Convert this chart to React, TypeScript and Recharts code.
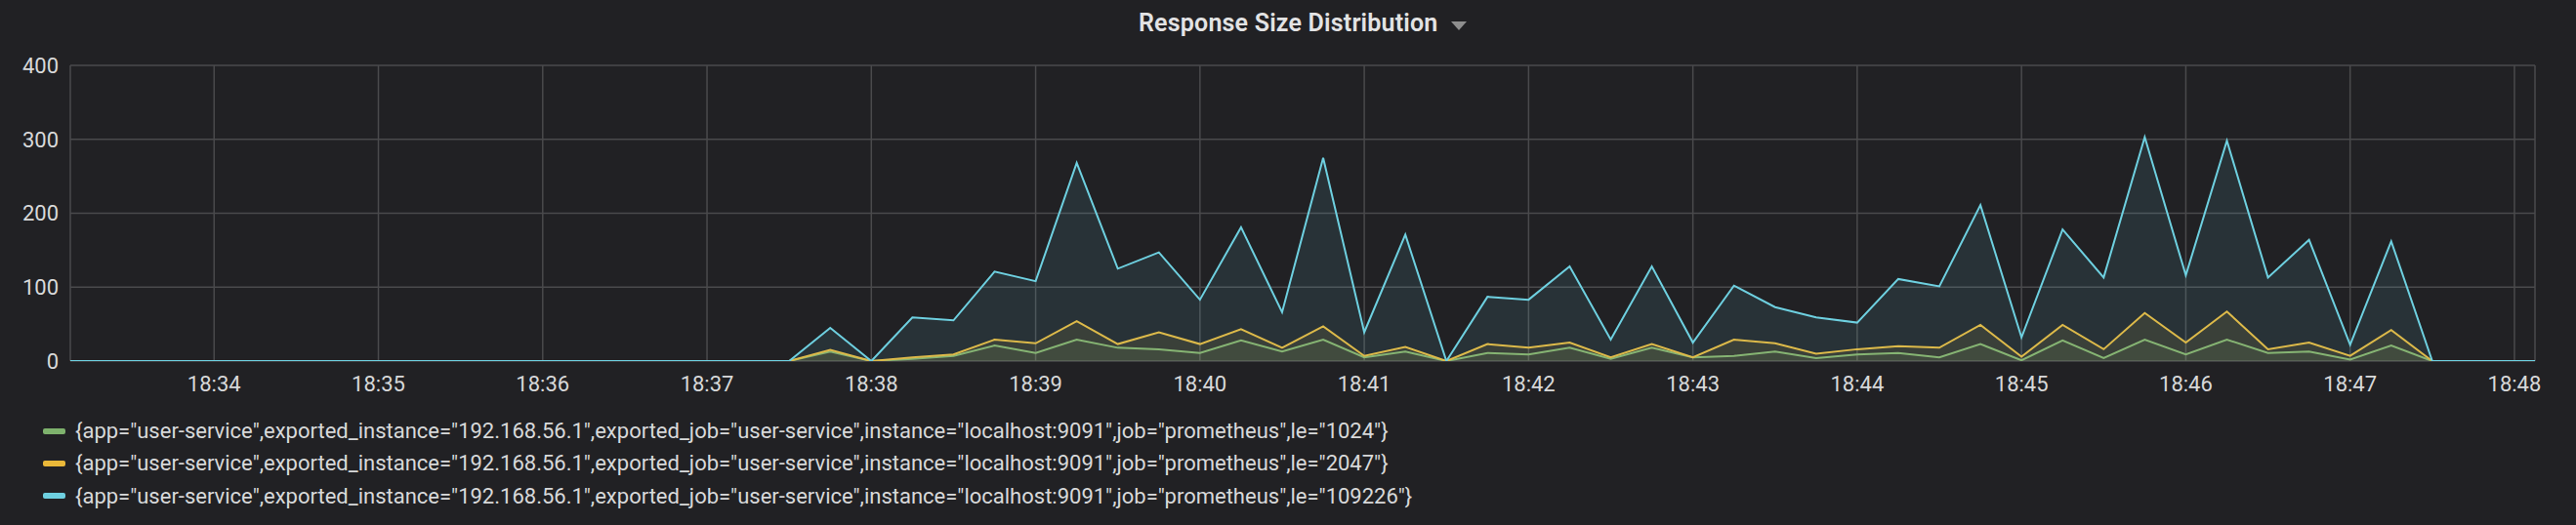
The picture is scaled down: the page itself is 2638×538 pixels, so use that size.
import { ComposedChart, Area, XAxis, YAxis, CartesianGrid } from 'recharts';

// #region Data
// sample times start 18:33:00, one point every 15 s, last one 18:48:15
const startSec = 33 * 60;
const stepSec = 15;

const lead = [0, 0, 0, 0, 0, 0, 0, 0, 0, 0, 0, 0, 0, 0, 0, 0, 0, 0];
const tail = [0, 0, 0];

// 18:37:30 -> 18:47:30
const le1024 = [
    0, 13, 0, 3, 7, 21, 11, 29, 18, 16,
    11, 28, 13, 29, 5, 13, 0, 11, 9, 18,
    3, 18, 5, 7, 13, 4, 9, 11, 5, 23,
    1, 28, 4, 29, 9, 29, 11, 13, 2, 21,
    0,
];
const le2047 = [
    0, 15, 0, 5, 9, 29, 24, 54, 23, 39,
    23, 43, 18, 47, 7, 19, 0, 23, 18, 25,
    5, 23, 5, 29, 24, 10, 16, 20, 18, 49,
    6, 49, 16, 65, 25, 67, 16, 25, 7, 42,
    0,
];
const le109226 = [
    0, 45, 0, 59, 55, 121, 108, 268, 125, 147,
    83, 181, 66, 275, 39, 171, 0, 87, 83, 128,
    29, 128, 25, 102, 73, 59, 52, 111, 101, 211,
    32, 178, 113, 303, 116, 298, 113, 164, 22, 162,
    0,
];

const xTicks = [34, 35, 36, 37, 38, 39, 40, 41, 42, 43, 44, 45, 46, 47, 48].map((m) => m * 60);
const yTicks = [0, 100, 200, 300, 400];

const legendLabels = [
    '{app="user-service",exported_instance="192.168.56.1",exported_job="user-service",instance="localhost:9091",job="prometheus",le="1024"}',
    '{app="user-service",exported_instance="192.168.56.1",exported_job="user-service",instance="localhost:9091",job="prometheus",le="2047"}',
    '{app="user-service",exported_instance="192.168.56.1",exported_job="user-service",instance="localhost:9091",job="prometheus",le="109226"}',
];
const colors = ['#7EB26D', '#EAB839', '#6ED0E0'];
// #endregion

const s1 = [...lead, ...le1024, ...tail];
const s2 = [...lead, ...le2047, ...tail];
const s3 = [...lead, ...le109226, ...tail];

const data = s1.map((v, i) => ({
    t: startSec + i * stepSec,
    a: v,
    b: s2[i],
    c: s3[i],
}));

const fmtTime = (sec: number) => `18:${String(Math.floor(sec / 60)).padStart(2, '0')}`;

const textColor = '#d8d9da';
const font = 'Roboto, "Noto Sans", sans-serif';

export default function App() {
    return (
        <div
            style={{
                position: 'absolute',
                left: 0,
                top: 0,
                width: 2638,
                height: 538,
                background: '#212124',
                fontFamily: font,
                overflow: 'hidden',
            }}
        >
            <div
                style={{
                    position: 'absolute',
                    top: 11,
                    left: 1166,
                    display: 'flex',
                    alignItems: 'center',
                    lineHeight: 1,
                }}
            >
                <span style={{ fontSize: 25, fontWeight: 600, color: '#e3e3e4', letterSpacing: 0.2 }}>
                    Response Size Distribution
                </span>
                <svg width={16} height={9} style={{ marginLeft: 13, marginTop: 6 }}>
                    <polygon points="0,0 16,0 8,9" fill="#8e8e8e" />
                </svg>
            </div>

            <ComposedChart
                width={2638}
                height={420}
                data={data}
                margin={{ top: 67, right: 42, left: 12, bottom: 0 }}
                style={{ position: 'absolute', left: 0, top: 0 }}
            >
                <CartesianGrid stroke="#4a4a4c" strokeWidth={1.5} />
                <XAxis
                    dataKey="t"
                    type="number"
                    domain={[startSec + 7.5, 48 * 60 + 7.5]}
                    allowDataOverflow
                    ticks={xTicks}
                    tickFormatter={fmtTime}
                    axisLine={false}
                    tickLine={false}
                    tickSize={6}
                    tickMargin={9}
                    height={50}
                    tick={{ fill: textColor, fontSize: 22, fontFamily: font }}
                />
                <YAxis
                    domain={[0, 400]}
                    ticks={yTicks}
                    allowDataOverflow
                    axisLine={false}
                    tickLine={false}
                    tickSize={6}
                    tickMargin={6}
                    width={60}
                    tick={{ fill: textColor, fontSize: 22, fontFamily: font }}
                />
                <Area
                    type="linear"
                    dataKey="a"
                    stroke={colors[0]}
                    strokeWidth={2}
                    fill={colors[0]}
                    fillOpacity={0.1}
                    dot={false}
                    activeDot={false}
                    isAnimationActive={false}
                />
                <Area
                    type="linear"
                    dataKey="b"
                    stroke={colors[1]}
                    strokeWidth={2}
                    fill={colors[1]}
                    fillOpacity={0.1}
                    dot={false}
                    activeDot={false}
                    isAnimationActive={false}
                />
                <Area
                    type="linear"
                    dataKey="c"
                    stroke={colors[2]}
                    strokeWidth={2}
                    fill={colors[2]}
                    fillOpacity={0.1}
                    dot={false}
                    activeDot={false}
                    isAnimationActive={false}
                />
            </ComposedChart>

            <div style={{ position: 'absolute', left: 44, top: 425 }}>
                {legendLabels.map((label, i) => (
                    <div key={label} style={{ display: 'flex', alignItems: 'center', height: 33.3 }}>
                        <span
                            style={{
                                display: 'inline-block',
                                width: 23,
                                height: 6,
                                borderRadius: 2,
                                background: colors[i],
                                marginRight: 10,
                            }}
                        />
                        <span style={{ fontSize: 22, color: textColor, whiteSpace: 'nowrap' }}>{label}</span>
                    </div>
                ))}
            </div>
        </div>
    );
}
